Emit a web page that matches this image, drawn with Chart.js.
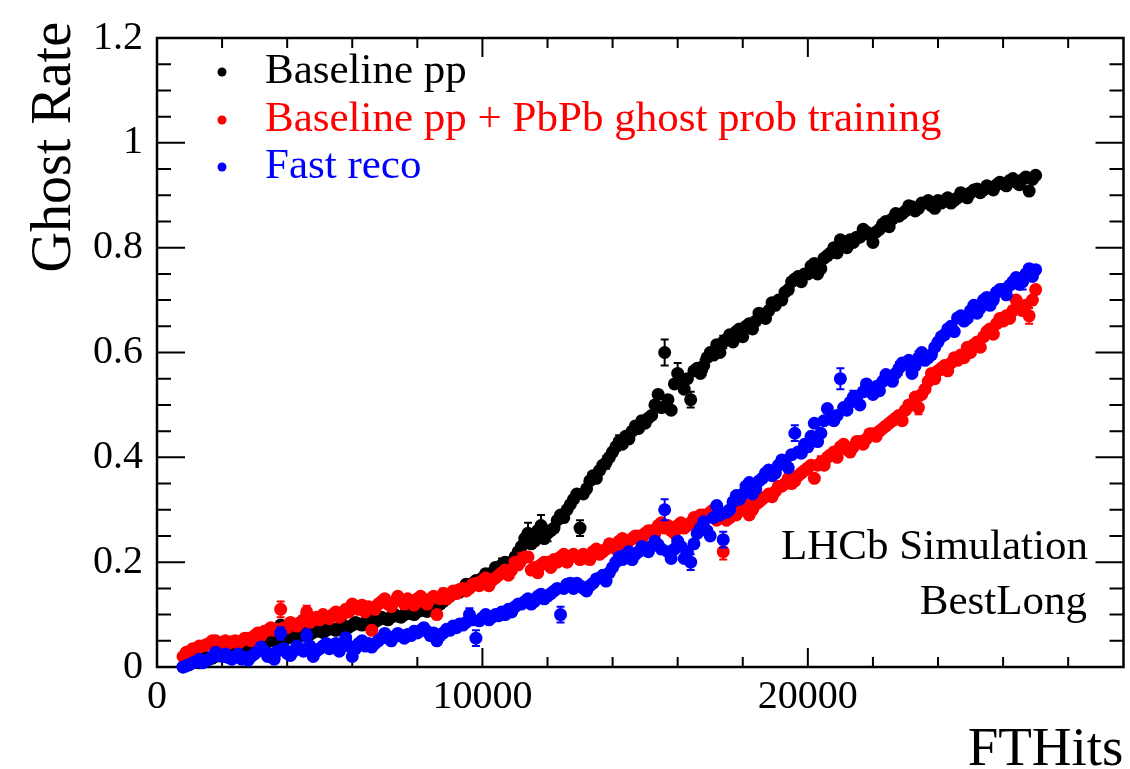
<!DOCTYPE html>
<html>
<head>
<meta charset="utf-8">
<script src="https://cdn.jsdelivr.net/npm/chart.js@4.4.1/dist/chart.umd.min.js"></script>
<style>
  html, body { margin: 0; padding: 0; background: #fff; }
  canvas { display: block; }
</style>
</head>
<body>
<canvas id="c" width="1130" height="769"></canvas>
<script>
// ---- Data ----
const ftHits = [
  800,900,1000,1100,1200,1300,1400,1500,1600,1700,
  1800,1900,2000,2100,2200,2300,2400,2500,2600,2700,
  2800,2900,3000,3100,3200,3300,3400,3500,3600,3700,
  3800,3900,4000,4100,4200,4300,4400,4500,4600,4700,
  4800,4900,5000,5100,5200,5300,5400,5500,5600,5700,
  5800,5900,6000,6100,6200,6300,6400,6500,6600,6700,
  6800,6900,7000,7100,7200,7300,7400,7500,7600,7700,
  7800,7900,8000,8100,8200,8300,8400,8500,8600,8700,
  8800,8900,9000,9100,9200,9300,9400,9500,9600,9700,
  9800,9900,10000,10100,10200,10300,10400,10500,10600,10700,
  10800,10900,11000,11100,11200,11300,11400,11500,11600,11700,
  11800,11900,12000,12100,12200,12300,12400,12500,12600,12700,
  12800,12900,13000,13100,13200,13300,13400,13500,13600,13700,
  13800,13900,14000,14100,14200,14300,14400,14500,14600,14700,
  14800,14900,15000,15100,15200,15300,15400,15500,15600,15700,
  15800,15900,16000,16100,16200,16300,16400,16500,16600,16700,
  16800,16900,17000,17100,17200,17300,17400,17500,17600,17700,
  17800,17900,18000,18100,18200,18300,18400,18500,18600,18700,
  18800,18900,19000,19100,19200,19300,19400,19500,19600,19700,
  19800,19900,20000,20100,20200,20300,20400,20500,20600,20700,
  20800,20900,21000,21100,21200,21300,21400,21500,21600,21700,
  21800,21900,22000,22100,22200,22300,22400,22500,22600,22700,
  22800,22900,23000,23100,23200,23300,23400,23500,23600,23700,
  23800,23900,24000,24100,24200,24300,24400,24500,24600,24700,
  24800,24900,25000,25100,25200,25300,25400,25500,25600,25700,
  25800,25900,26000,26100,26200,26300,26400,26500,26600,26700,
  26800,26900,27000
];

const baselinePP = [
  0.00,0.004,0.005,0.01,0.01,0.008,0.012,0.018,0.015,0.017,
  0.02,0.024,0.022,0.02,0.025,0.03,0.028,0.026,0.03,0.034,
  0.035,0.033,0.04,0.045,0.042,0.044,0.048,0.052,0.05,0.055,
  0.08,0.06,0.055,0.057,0.058,0.062,0.06,0.065,0.063,0.062,
  0.066,0.07,0.068,0.066,0.07,0.075,0.072,0.07,0.075,0.08,
  0.077,0.076,0.08,0.085,0.082,0.08,0.085,0.09,0.087,0.086,
  0.09,0.095,0.092,0.09,0.095,0.10,0.097,0.095,0.10,0.106,
  0.102,0.10,0.105,0.11,0.108,0.106,0.112,0.118,0.115,0.12,
  0.125,0.13,0.135,0.14,0.145,0.143,0.15,0.158,0.155,0.16,
  0.165,0.162,0.17,0.178,0.175,0.18,0.19,0.185,0.195,0.20,
  0.19,0.20,0.21,0.22,0.23,0.245,0.255,0.235,0.24,0.26,
  0.27,0.245,0.255,0.26,0.265,0.28,0.29,0.285,0.30,0.31,
  0.32,0.33,0.265,0.33,0.34,0.355,0.365,0.36,0.375,0.385,
  0.39,0.40,0.41,0.42,0.43,0.425,0.44,0.435,0.45,0.46,
  0.455,0.47,0.465,0.475,0.48,0.50,0.52,0.495,0.60,0.51,
  0.49,0.54,0.56,0.545,0.53,0.55,0.51,0.565,0.57,0.56,
  0.575,0.59,0.60,0.595,0.615,0.60,0.62,0.625,0.634,0.62,
  0.64,0.645,0.63,0.65,0.655,0.645,0.66,0.675,0.67,0.665,
  0.68,0.695,0.69,0.70,0.70,0.715,0.72,0.735,0.74,0.745,
  0.735,0.75,0.75,0.765,0.77,0.75,0.76,0.78,0.785,0.79,
  0.80,0.79,0.815,0.81,0.80,0.815,0.81,0.82,0.82,0.835,
  0.83,0.825,0.81,0.83,0.835,0.845,0.85,0.84,0.855,0.865,
  0.86,0.865,0.87,0.88,0.878,0.87,0.875,0.885,0.885,0.89,
  0.88,0.875,0.89,0.885,0.89,0.895,0.885,0.89,0.895,0.905,
  0.90,0.895,0.905,0.91,0.912,0.905,0.91,0.918,0.915,0.91,
  0.92,0.925,0.922,0.918,0.928,0.932,0.925,0.92,0.93,0.935,
  0.908,0.93,0.938
];

const baselinePbPb = [
  0.02,0.028,0.03,0.035,0.035,0.04,0.04,0.042,0.045,0.05,
  0.05,0.045,0.045,0.05,0.045,0.048,0.05,0.045,0.05,0.055,
  0.055,0.05,0.06,0.065,0.06,0.068,0.07,0.075,0.07,0.072,
  0.11,0.075,0.075,0.085,0.08,0.078,0.085,0.09,0.105,0.085,
  0.09,0.095,0.09,0.10,0.095,0.092,0.10,0.105,0.095,0.10,
  0.11,0.105,0.12,0.115,0.11,0.118,0.105,0.115,0.07,0.11,
  0.12,0.125,0.13,0.12,0.115,0.125,0.135,0.128,0.12,0.13,
  0.125,0.118,0.13,0.135,0.125,0.12,0.13,0.135,0.10,0.13,
  0.14,0.13,0.135,0.145,0.14,0.148,0.15,0.145,0.15,0.158,
  0.16,0.155,0.165,0.17,0.155,0.165,0.17,0.175,0.18,0.185,
  0.175,0.185,0.20,0.195,0.205,0.21,0.21,0.185,0.19,0.18,
  0.195,0.20,0.20,0.19,0.205,0.20,0.21,0.215,0.20,0.21,
  0.215,0.21,0.205,0.215,0.21,0.205,0.22,0.225,0.215,0.22,
  0.225,0.235,0.23,0.225,0.24,0.245,0.235,0.24,0.245,0.25,
  0.25,0.245,0.255,0.26,0.26,0.255,0.27,0.275,0.265,0.27,
  0.26,0.255,0.27,0.275,0.265,0.27,0.275,0.285,0.28,0.29,
  0.29,0.285,0.295,0.30,0.28,0.285,0.22,0.28,0.285,0.295,
  0.29,0.30,0.30,0.31,0.29,0.30,0.31,0.315,0.32,0.325,
  0.33,0.325,0.335,0.345,0.345,0.35,0.36,0.35,0.355,0.365,
  0.37,0.375,0.38,0.385,0.36,0.385,0.39,0.385,0.40,0.405,
  0.41,0.40,0.42,0.425,0.415,0.41,0.42,0.43,0.43,0.425,
  0.435,0.445,0.445,0.44,0.45,0.455,0.46,0.465,0.47,0.475,
  0.48,0.47,0.49,0.50,0.50,0.515,0.495,0.52,0.53,0.545,
  0.56,0.55,0.565,0.57,0.575,0.565,0.58,0.59,0.585,0.595,
  0.59,0.61,0.60,0.615,0.62,0.61,0.63,0.64,0.645,0.635,
  0.655,0.665,0.66,0.67,0.665,0.68,0.70,0.69,0.68,0.69,
  0.67,0.70,0.72
];

const fastReco = [
  0.0,0.002,0.005,0.008,0.01,0.015,0.008,0.012,0.015,0.02,
  0.028,0.022,0.02,0.025,0.018,0.015,0.02,0.025,0.015,0.018,
  0.013,0.02,0.025,0.03,0.038,0.03,0.02,0.025,0.015,0.03,
  0.064,0.035,0.026,0.022,0.03,0.04,0.035,0.03,0.06,0.04,
  0.02,0.03,0.035,0.04,0.045,0.035,0.04,0.045,0.03,0.04,
  0.056,0.04,0.02,0.035,0.045,0.05,0.04,0.045,0.038,0.045,
  0.05,0.055,0.064,0.055,0.05,0.058,0.064,0.06,0.055,0.062,
  0.06,0.068,0.065,0.07,0.075,0.068,0.06,0.065,0.05,0.06,
  0.065,0.072,0.07,0.078,0.075,0.082,0.08,0.085,0.10,0.09,
  0.055,0.088,0.094,0.10,0.09,0.095,0.10,0.098,0.105,0.10,
  0.11,0.105,0.115,0.12,0.12,0.125,0.13,0.12,0.125,0.135,
  0.139,0.13,0.135,0.14,0.145,0.15,0.10,0.15,0.158,0.16,
  0.15,0.16,0.155,0.15,0.145,0.155,0.16,0.168,0.17,0.175,
  0.164,0.18,0.19,0.20,0.21,0.205,0.214,0.22,0.205,0.215,
  0.22,0.23,0.225,0.22,0.23,0.24,0.233,0.225,0.30,0.22,
  0.207,0.225,0.24,0.23,0.207,0.22,0.20,0.235,0.255,0.265,
  0.277,0.26,0.25,0.285,0.308,0.29,0.243,0.295,0.30,0.315,
  0.327,0.32,0.33,0.345,0.352,0.33,0.34,0.355,0.36,0.37,
  0.376,0.365,0.37,0.385,0.395,0.39,0.38,0.405,0.446,0.41,
  0.408,0.425,0.42,0.44,0.465,0.43,0.446,0.47,0.493,0.475,
  0.47,0.48,0.55,0.495,0.49,0.505,0.515,0.51,0.50,0.525,
  0.54,0.53,0.52,0.535,0.527,0.545,0.558,0.55,0.545,0.56,
  0.57,0.58,0.577,0.585,0.56,0.575,0.59,0.60,0.585,0.59,
  0.596,0.61,0.62,0.63,0.634,0.645,0.65,0.64,0.666,0.67,
  0.66,0.665,0.68,0.69,0.675,0.685,0.70,0.705,0.69,0.70,
  0.715,0.72,0.72,0.71,0.728,0.735,0.743,0.73,0.735,0.75,
  0.76,0.745,0.758
];

// visible error bars: [point index, error]
const baselinePPErrors   = [[98,0.012],[106,0.02],[110,0.02],[112,0.015],[122,0.015],[130,0.012],[134,0.012],[148,0.025],[152,0.02],[156,0.015],[160,0.012],[166,0.012]];
const baselinePbPbErrors = [[30,0.015],[38,0.012],[80,0.01],[104,0.012],[166,0.015],[196,0.012],[226,0.013],[260,0.015]];
const fastRecoErrors     = [[30,0.012],[38,0.012],[88,0.012],[90,0.015],[116,0.015],[148,0.02],[156,0.015],[166,0.015],[188,0.015],[202,0.02],[206,0.012],[220,0.012],[226,0.012],[258,0.015]];

const seriesLabels = ['Baseline pp', 'Baseline pp + PbPb ghost prob training', 'Fast reco'];
const seriesColors = ['#000000', '#ff0000', '#0000ff'];
const xTickLabels = [0, 10000, 20000];
const yTickLabels = ['0', '0.2', '0.4', '0.6', '0.8', '1', '1.2'];
const xTitle = 'FTHits';
const yTitle = 'Ghost Rate';
const noteLines = ['LHCb Simulation', 'BestLong'];

// ---- Chart ----
const FONT = "'Liberation Serif', 'Times New Roman', serif";
Chart.defaults.font.family = FONT;
Chart.defaults.color = '#000';

function toPoints(ys) { return ys.map((v, i) => ({ x: ftHits[i], y: v })); }
const allSeries = [baselinePP, baselinePbPb, fastReco];
const allErrors = [baselinePPErrors, baselinePbPbErrors, fastRecoErrors];

const datasets = allSeries.map((ys, k) => ({
  label: seriesLabels[k],
  data: toPoints(ys),
  backgroundColor: seriesColors[k],
  borderColor: seriesColors[k],
  borderWidth: 0,
  pointRadius: 6.5,
  pointHoverRadius: 6.5,
  clip: false,
  order: 3 - k
}));

const framePlugin = {
  id: 'frameTicks',
  beforeDatasetsDraw(chart) {
    const { ctx, chartArea: a, scales } = chart;
    const xs = scales.x, ys = scales.y;
    ctx.save();
    ctx.strokeStyle = '#000';
    ctx.lineWidth = 2;
    ctx.beginPath();
    for (let v = 0; v <= xs.max; v += 2000) {
      const px = xs.getPixelForValue(v);
      const len = (v % 10000 === 0) ? 19 : 10;
      ctx.moveTo(px, a.bottom); ctx.lineTo(px, a.bottom - len);
      ctx.moveTo(px, a.top); ctx.lineTo(px, a.top + len);
    }
    for (let k = 0; k <= 24; k++) {
      const py = ys.getPixelForValue(k * 0.05);
      const len = (k % 4 === 0) ? 28 : 14;
      ctx.moveTo(a.left, py); ctx.lineTo(a.left + len, py);
      ctx.moveTo(a.right, py); ctx.lineTo(a.right - len, py);
    }
    ctx.stroke();
    ctx.lineWidth = 2.5;
    ctx.strokeRect(a.left, a.top, a.right - a.left, a.bottom - a.top);
    ctx.restore();
  },
  beforeDatasetDraw(chart, args) {
    const k = args.index;
    const errs = allErrors[k];
    const meta = args.meta;
    const ys = chart.scales.y;
    const ctx = chart.ctx;
    ctx.save();
    ctx.strokeStyle = seriesColors[k];
    ctx.lineWidth = 2;
    ctx.beginPath();
    errs.forEach(([i, e]) => {
      const pt = meta.data[i];
      const v = allSeries[k][i];
      const y1 = ys.getPixelForValue(v + e);
      const y2 = ys.getPixelForValue(v - e);
      ctx.moveTo(pt.x, y1); ctx.lineTo(pt.x, y2);
      ctx.moveTo(pt.x - 4, y1); ctx.lineTo(pt.x + 4, y1);
      ctx.moveTo(pt.x - 4, y2); ctx.lineTo(pt.x + 4, y2);
    });
    ctx.stroke();
    ctx.restore();
  },
  afterDraw(chart) {
    const { ctx, chartArea: a } = chart;
    ctx.save();
    ctx.fillStyle = '#000';
    ctx.font = `55px ${FONT}`;
    ctx.textAlign = 'right';
    ctx.textBaseline = 'alphabetic';
    ctx.fillText(xTitle, a.right, 765);
    ctx.save();
    ctx.translate(70, 22);
    ctx.rotate(-Math.PI / 2);
    ctx.font = `56px ${FONT}`;
    ctx.fillText(yTitle, 0, 0);
    ctx.restore();
    const rows = [72, 120, 167];
    ctx.font = `43px ${FONT}`;
    ctx.textAlign = 'left';
    ctx.textBaseline = 'middle';
    seriesLabels.forEach((lab, k) => {
      ctx.fillStyle = seriesColors[k];
      ctx.beginPath();
      ctx.arc(222, rows[k], 4.5, 0, Math.PI * 2);
      ctx.fill();
      ctx.fillText(lab, 265, rows[k]);
    });
    ctx.fillStyle = '#000';
    ctx.textAlign = 'right';
    ctx.font = `43px ${FONT}`;
    ctx.fillText(noteLines[0], 1088, 548);
    ctx.fillText(noteLines[1], 1087, 603);
    ctx.restore();
  }
};

new Chart(document.getElementById('c'), {
  type: 'scatter',
  data: { datasets },
  options: {
    responsive: false,
    devicePixelRatio: 1,
    animation: false,
    layout: { padding: { top: 29, right: 5, left: 0, bottom: 0 } },
    plugins: { legend: { display: false }, tooltip: { enabled: false } },
    scales: {
      x: {
        type: 'linear',
        position: 'bottom',
        min: 0,
        max: 29700,
        grid: { display: false, drawTicks: false },
        border: { display: false },
        ticks: {
          stepSize: 10000,
          maxRotation: 0,
          autoSkip: false,
          padding: 6,
          font: { size: 40, family: FONT },
          color: '#000',
          callback: v => String(v)
        },
        afterBuildTicks: s => { s.ticks = xTickLabels.map(v => ({ value: v })); },
        afterFit: s => { s.height = 102; }
      },
      y: {
        type: 'linear',
        min: 0,
        max: 1.2,
        grid: { display: false, drawTicks: false },
        border: { display: false },
        ticks: {
          stepSize: 0.2,
          padding: 14,
          font: { size: 40, family: FONT },
          color: '#000',
          callback: (v) => yTickLabels[Math.round(v / 0.2)]
        },
        afterBuildTicks: s => { s.ticks = yTickLabels.map((t, i) => ({ value: i * 0.2 })); },
        afterFit: s => { s.width = 157; }
      }
    }
  },
  plugins: [framePlugin]
});
</script>
</body>
</html>
